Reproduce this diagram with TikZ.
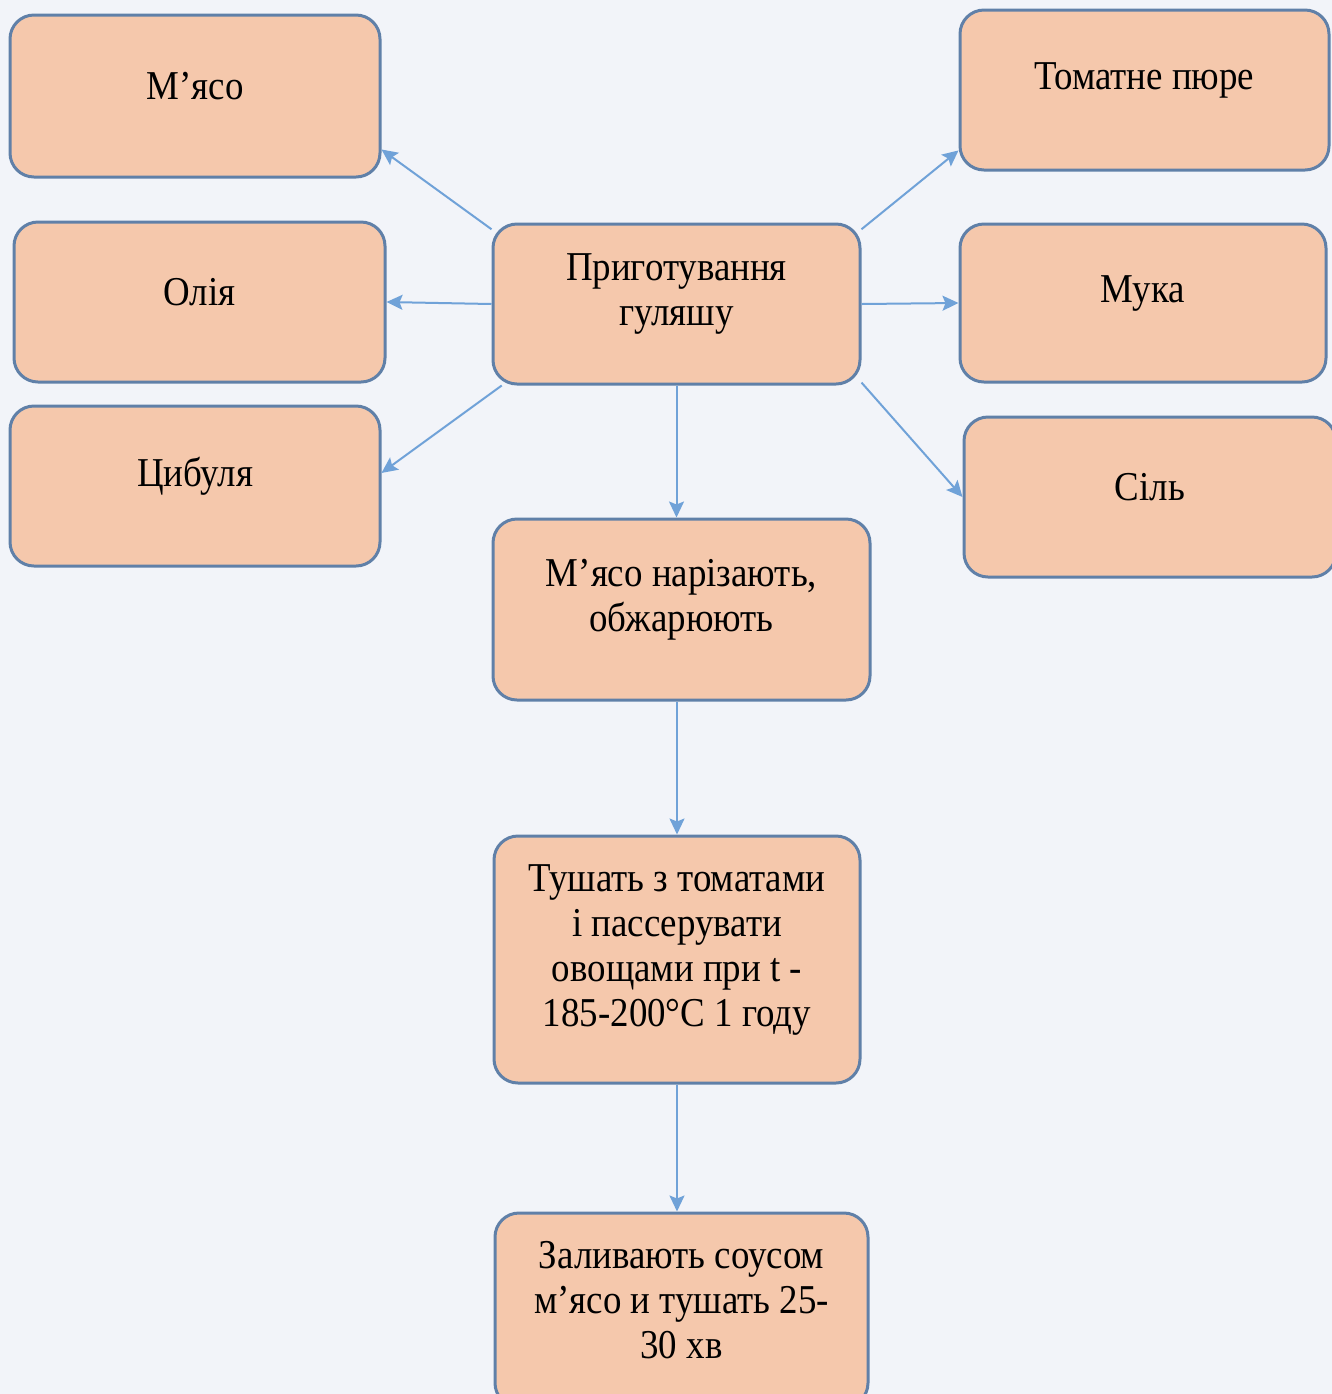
\documentclass[tikz,border=0pt]{standalone}
\usepackage{fontspec}
\setmainfont{Liberation Serif}[FakeStretch=0.9]
\usetikzlibrary{calc,arrows.meta}
\definecolor{paper}{RGB}{242,244,249}
\definecolor{peach}{RGB}{245,200,172}
\definecolor{rim}{RGB}{96,128,168}
\definecolor{wire}{RGB}{112,162,216}
\tikzset{
	box/.style={draw=rim,fill=peach,line width=1.5pt,rounded corners=12pt,inner sep=0pt},
	txt/.style={align=center,inner sep=0pt,font=\fontsize{20.5}{22.5}\selectfont},
	link/.style={draw=wire,line width=1pt,-{Stealth[length=8pt,width=7.5pt,inset=1.5pt]}}
}
\newcommand{\makestep}[6]{
	\node (#1) at (#2,#3) [box,minimum width=#4,minimum height=#5] {};
	\node (T#1) at ($(#1) + (0,-10)$) [txt] {#6};
}
\begin{document}
\begin{tikzpicture}[x=0.5pt,y=-0.5pt]
	\fill[paper] (0,0) rectangle (1332,1394);
	\useasboundingbox (0,0) rectangle (1332,1394);
	\makestep{meat}{195}{96}{185pt}{81pt}{М’ясо}
	\makestep{oil}{199.5}{302}{185.5pt}{80pt}{Олія}
	\makestep{onion}{195}{486}{185pt}{80pt}{Цибуля}
	\makestep{cook}{676.5}{304}{183.5pt}{80pt}{Приготування\\гуляшу}
	\makestep{tomato}{1144.5}{90}{184.5pt}{80pt}{Томатне пюре}
	\makestep{flour}{1143}{303}{183pt}{79pt}{Мука}
	\makestep{salt}{1150}{497}{186pt}{80pt}{Сіль}
	\makestep{cut}{681.5}{609.5}{188.5pt}{90.5pt}{М’ясо нарізають,\\обжарюють}
	\makestep{stew}{677}{959.5}{183pt}{123.5pt}{Тушать з томатами\\і пассерувати\\овощами при t -\\185-200°C 1 году}
	\makestep{pour}{681.5}{1310}{186.5pt}{97pt}{Заливають соусом\\м’ясо и тушать 25-\\30 хв}
	\draw[link] (cook.158) -- (meat.-16);
	\draw[link] (cook.west) -- (oil.east);
	\draw[link] (cook.205) -- (onion.4);
	\draw[link] (cook.22) -- (tomato.198);
	\draw[link] (cook.east) -- (flour.west);
	\draw[link] (cook.-23) -- (salt.west);
	\draw[link] (cook.south) -- (cook.south |- cut.north);
	\draw[link] (stew.north |- cut.south) -- (stew.north);
	\draw[link] (stew.south) -- (stew.south |- pour.north);
\end{tikzpicture}
\end{document}
